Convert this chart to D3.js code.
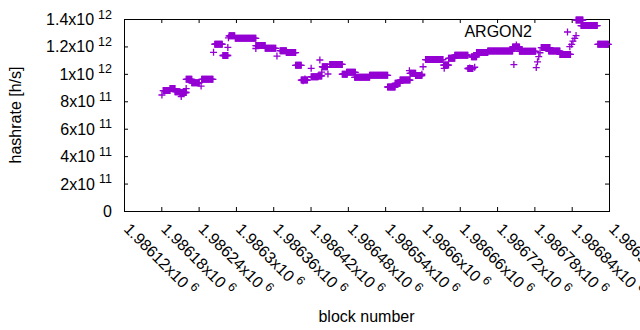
<!DOCTYPE html>
<html>
<head>
<meta charset="utf-8">
<script src="https://cdn.jsdelivr.net/npm/d3@7"></script>
<style>
body { margin: 0; background: #fff; }
text { font-family: "Liberation Sans", Arial, sans-serif; fill: #000; }
</style>
</head>
<body>
<svg id="chart" width="640" height="330"></svg>
<script>
// runs of blocks that share one hashrate value
const runStart = [1986183, 1986194, 1986202, 1986210, 1986220, 1986229, 1986245, 1986266, 1986279, 1986289,
    1986299, 1986332, 1986347, 1986371, 1986381, 1986396, 1986405, 1986421, 1986432, 1986439,
    1986451, 1986471, 1986478, 1986491, 1986515, 1986544, 1986556, 1986564, 1986580, 1986589,
    1986605, 1986634, 1986642, 1986652, 1986673, 1986679, 1986687, 1986705, 1986745, 1986756,
    1986791, 1986803, 1986821, 1986847, 1986855, 1986882];
const runEnd = [1986194, 1986202, 1986210, 1986220, 1986229, 1986241, 1986263, 1986278, 1986287, 1986298,
    1986332, 1986347, 1986364, 1986381, 1986396, 1986405, 1986415, 1986432, 1986438, 1986447,
    1986471, 1986479, 1986492, 1986515, 1986544, 1986556, 1986564, 1986580, 1986589, 1986599,
    1986633, 1986642, 1986652, 1986673, 1986681, 1986687, 1986705, 1986745, 1986756, 1986782,
    1986805, 1986821, 1986838, 1986858, 1986881, 1986899];
const runRate = [8.78e11, 8.93e11, 8.70e11, 8.64e11, 9.60e11, 9.35e11, 9.60e11, 12.16e11, 11.34e11, 12.77e11,
    12.59e11, 12.06e11, 11.86e11, 11.69e11, 11.55e11, 10.62e11, 9.55e11, 9.79e11, 9.85e11, 10.52e11,
    10.69e11, 9.97e11, 10.11e11, 9.75e11, 9.89e11, 9.04e11, 9.31e11, 9.55e11, 10.04e11, 9.88e11,
    11.04e11, 10.64e11, 11.13e11, 11.36e11, 10.39e11, 11.24e11, 11.55e11, 11.66e11, 11.96e11, 11.64e11,
    11.92e11, 11.66e11, 11.42e11, 13.92e11, 13.52e11, 12.15e11];

// isolated blocks
const singleBlock = [1986181, 1986212, 1986220, 1986244, 1986264, 1986287, 1986288, 1986332, 1986366, 1986408,
    1986411, 1986421, 1986435, 1986438, 1986448, 1986579, 1986599, 1986601, 1986635, 1986676,
    1986684, 1986747, 1986751, 1986783, 1986785, 1986787, 1986789, 1986837, 1986840, 1986842,
    1986845, 1986847];
const singleRate = [8.46e11, 8.35e11, 8.93e11, 9.11e11, 11.57e11, 11.93e11, 12.63e11, 11.85e11, 11.30e11, 9.50e11,
    9.62e11, 10.40e11, 11.01e11, 10.13e11, 9.99e11, 10.23e11, 9.97e11, 10.52e11, 10.40e11, 10.42e11,
    10.48e11, 10.68e11, 12.10e11, 10.46e11, 10.88e11, 11.25e11, 11.54e11, 11.98e11, 12.15e11, 12.39e11,
    12.58e11, 12.79e11];

const xTicks = [1986120, 1986180, 1986240, 1986300, 1986360, 1986420, 1986480, 1986540,
    1986600, 1986660, 1986720, 1986780, 1986840, 1986900];
const yTicks = [0, 2e11, 4e11, 6e11, 8e11, 1e12, 1.2e12, 1.4e12];

const seriesName = 'ARGON2';
const purple = '#9400d3';

const svg = d3.select('#chart');
const margin = {top: 19, right: 31, bottom: 119, left: 124};
const width = 640, height = 330;

const xScale = d3.scaleLinear()
    .domain([1986120, 1986900])
    .range([margin.left, width - margin.right]);
const yScale = d3.scaleLinear()
    .domain([0, 1.4e12])
    .range([height - margin.bottom, margin.top]);

const points = [];
runStart.forEach((s, i) => {
    for (let b = s; b <= runEnd[i]; b++) points.push({block: b, rate: runRate[i]});
});
singleBlock.forEach((b, i) => points.push({block: b, rate: singleRate[i]}));

const plus = 'M-3.5,0H3.5M0,-3.5V3.5';

// ticks, all pointing inwards
const noLabel = () => '';
svg.append('g').attr('transform', `translate(0,${yScale(0)})`)
    .call(d3.axisBottom(xScale).tickValues(xTicks).tickSize(-4).tickFormat(noLabel))
    .call(g => g.select('.domain').remove());
svg.append('g').attr('transform', `translate(0,${margin.top})`)
    .call(d3.axisTop(xScale).tickValues(xTicks).tickSize(-4).tickFormat(noLabel))
    .call(g => g.select('.domain').remove());
svg.append('g').attr('transform', `translate(${margin.left},0)`)
    .call(d3.axisLeft(yScale).tickValues(yTicks).tickSize(-4).tickFormat(noLabel))
    .call(g => g.select('.domain').remove());
svg.append('g').attr('transform', `translate(${width - margin.right},0)`)
    .call(d3.axisRight(yScale).tickValues(yTicks).tickSize(-4).tickFormat(noLabel))
    .call(g => g.select('.domain').remove());
svg.selectAll('.tick line').attr('stroke', '#000');

svg.append('rect')
    .attr('x', margin.left + 0.5)
    .attr('y', margin.top + 0.5)
    .attr('width', xScale.range()[1] - margin.left)
    .attr('height', yScale(0) - margin.top)
    .attr('fill', 'none')
    .attr('stroke', '#000');

// y labels like 1.2x10^12
const sci = v => {
    if (v === 0) return {m: '0', e: ''};
    const e = Math.floor(Math.log10(v) + 1e-9);
    return {m: d3.format('~g')(+(v / 10 ** e).toFixed(3)) + 'x10', e: String(e)};
};

yTicks.forEach(v => {
    const s = sci(v);
    const t = svg.append('text')
        .attr('x', 112)
        .attr('y', yScale(v) + 6)
        .attr('text-anchor', 'end')
        .style('font-size', '16px');
    t.append('tspan').text(s.m);
    if (s.e) t.append('tspan').attr('dx', 4).attr('dy', -6.5).style('font-size', '12.5px').text(s.e);
});

const xFmt = d3.format('.6~g');
xTicks.forEach(v => {
    const t = svg.append('text')
        .attr('transform', `translate(${xScale(v) - 1},${yScale(0) + 19}) rotate(45)`)
        .style('font-size', '16px');
    t.append('tspan').text(xFmt(v / 1e6) + 'x10');
    t.append('tspan').attr('dx', 4).attr('dy', -6.5).style('font-size', '12.5px').text('6');
});

svg.append('text')
    .attr('transform', `translate(21,${(margin.top + yScale(0)) / 2}) rotate(-90)`)
    .attr('text-anchor', 'middle')
    .style('font-size', '16px')
    .text('hashrate [h/s]');

svg.append('text')
    .attr('x', (xScale.range()[0] + xScale.range()[1]) / 2)
    .attr('y', 322)
    .attr('text-anchor', 'middle')
    .style('font-size', '16px')
    .text('block number');

// points
svg.append('g').selectAll('path').data(points)
    .enter().append('path')
        .attr('d', plus)
        .attr('transform', d => `translate(${xScale(d.block)},${yScale(d.rate)})`)
        .attr('fill', 'none')
        .attr('stroke', purple)
        .attr('stroke-width', 1.3);

// key
svg.append('text')
    .attr('x', 532)
    .attr('y', 37)
    .attr('text-anchor', 'end')
    .style('font-size', '16px')
    .text(seriesName);
svg.append('path')
    .attr('d', plus)
    .attr('transform', 'translate(567.5,32)')
    .attr('fill', 'none')
    .attr('stroke', purple)
    .attr('stroke-width', 1.3);
</script>
</body>
</html>
